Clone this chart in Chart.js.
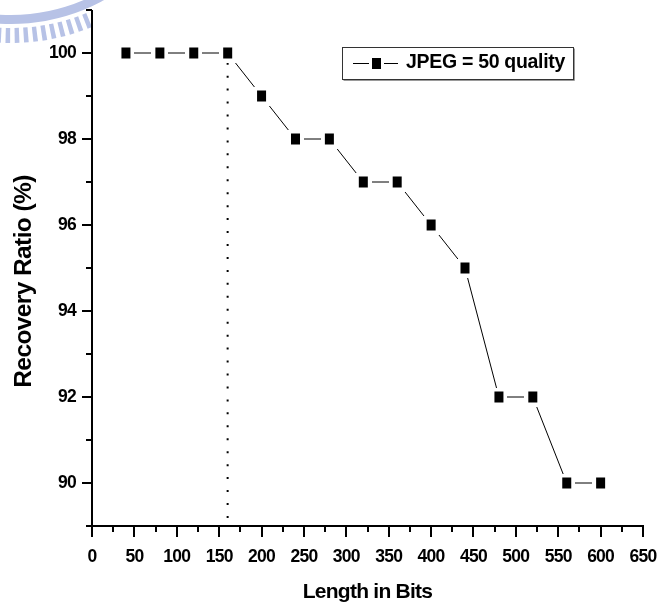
<!DOCTYPE html>
<html>
<head>
<meta charset="utf-8">
<script src="https://cdn.jsdelivr.net/npm/chart.js@4/dist/chart.umd.min.js"></script>
<style>
html,body{margin:0;padding:0;background:#fff;}
#wrap{width:667px;height:605px;position:relative;}
</style>
</head>
<body>
<div id="wrap"><canvas id="c" width="667" height="605"></canvas></div>
<script>
// ---- data ----
const lengthBits    = [40, 80, 120, 160, 200, 240, 280, 320, 360, 400, 440, 480, 520, 560, 600];
const recoveryRatio = [100, 100, 100, 100, 99, 98, 98, 97, 97, 96, 95, 92, 92, 90, 90];
const seriesLabel   = 'JPEG = 50 quality';
const thresholdX    = [160, 160];
const thresholdY    = [100, 89];
const xMajorTicks   = [0, 50, 100, 150, 200, 250, 300, 350, 400, 450, 500, 550, 600, 650];
const yMajorTicks   = [90, 92, 94, 96, 98, 100];
const xTitle        = 'Length in Bits';
const yTitle        = 'Recovery Ratio (%)';

const FONT = '"Liberation Sans", Arial, Helvetica, sans-serif';
const SPACING = '-0.75px';

function makeMarker() {
  const c = document.createElement('canvas');
  c.width = 17; c.height = 19;
  const g = c.getContext('2d');
  g.fillStyle = '#fff'; g.fillRect(0, 0, 17, 19);
  g.fillStyle = '#000'; g.fillRect(4, 4, 9, 11);
  return c;
}
const marker = makeMarker();

const decor = {
  id: 'decor',
  beforeLayout(chart) { chart.ctx.letterSpacing = SPACING; },
  beforeDraw(chart) {
    const ctx = chart.ctx;
    ctx.letterSpacing = SPACING;
    ctx.save();
    ctx.fillStyle = '#fff';
    ctx.fillRect(0, 0, chart.width, chart.height);
    // faint watermark logo (partial) at top-left
    const cx = 11, cy = -169;
    ctx.fillStyle = '#b7c2e6';
    ctx.beginPath();
    ctx.arc(cx, cy, 193, 0.3, Math.PI - 0.3, false);
    ctx.arc(cx, cy, 184, Math.PI - 0.3, 0.3, true);
    ctx.closePath();
    ctx.fill();
    for (let t = 1.19; t < 1.75; t += 0.044) {
      ctx.beginPath();
      const w = 0.011;
      ctx.moveTo(cx + 197 * Math.cos(t - w), cy + 197 * Math.sin(t - w));
      ctx.lineTo(cx + 212 * Math.cos(t - w), cy + 212 * Math.sin(t - w));
      ctx.lineTo(cx + 212 * Math.cos(t + w), cy + 212 * Math.sin(t + w));
      ctx.lineTo(cx + 197 * Math.cos(t + w), cy + 197 * Math.sin(t + w));
      ctx.closePath();
      ctx.fill();
    }
    ctx.restore();
  },
  afterDraw(chart) {
    const {ctx, chartArea: a, scales: {x, y}} = chart;
    ctx.save();
    ctx.strokeStyle = '#000';
    ctx.lineWidth = 2;
    ctx.lineCap = 'butt';
    // axis lines
    ctx.beginPath();
    ctx.moveTo(a.left, a.top);
    ctx.lineTo(a.left, a.bottom + 1);
    ctx.moveTo(a.left - 1, a.bottom);
    ctx.lineTo(a.right + 1, a.bottom);
    ctx.stroke();
    // x ticks
    ctx.beginPath();
    for (let v = x.min; v <= x.max + 0.001; v += 25) {
      const px = Math.round(x.getPixelForValue(v));
      const major = xMajorTicks.includes(v);
      ctx.moveTo(px, a.bottom);
      ctx.lineTo(px, a.bottom + (major ? 11 : 6));
    }
    // y ticks
    for (let v = y.min; v <= y.max + 0.001; v += 1) {
      const py = Math.round(y.getPixelForValue(v));
      const major = yMajorTicks.includes(v);
      ctx.moveTo(a.left, py);
      ctx.lineTo(a.left - (major ? 10 : 6), py);
    }
    ctx.stroke();

    // y title
    ctx.save();
    ctx.letterSpacing = '-0.6px';
    ctx.translate(24, 281.5);
    ctx.rotate(-Math.PI / 2);
    ctx.fillStyle = '#000';
    ctx.font = 'bold 24.5px ' + FONT;
    ctx.textAlign = 'center';
    ctx.textBaseline = 'middle';
    ctx.fillText(yTitle, 0, 0);
    ctx.restore();

    // legend box
    const bx = 342.5, by = 47.5, bw = 231, bh = 32;
    ctx.lineWidth = 1;
    ctx.strokeStyle = '#9a9a9a';
    ctx.beginPath();
    ctx.moveTo(bx + bw + 1, by + 1);
    ctx.lineTo(bx + bw + 1, by + bh + 1);
    ctx.lineTo(bx + 1, by + bh + 1);
    ctx.stroke();
    ctx.strokeStyle = '#333';
    ctx.strokeRect(bx, by, bw, bh);
    const ly = 63.5;
    ctx.strokeStyle = '#000';
    ctx.beginPath();
    ctx.moveTo(353, ly); ctx.lineTo(369, ly);
    ctx.moveTo(384, ly); ctx.lineTo(398, ly);
    ctx.stroke();
    ctx.fillStyle = '#000';
    ctx.fillRect(372, 58, 9, 11);
    ctx.letterSpacing = '-0.3px';
    ctx.font = 'bold 19.5px ' + FONT;
    ctx.textAlign = 'left';
    ctx.textBaseline = 'middle';
    ctx.fillText(chart.data.datasets[0].label, 406, 63);
    ctx.restore();
  }
};

new Chart(document.getElementById('c'), {
  type: 'line',
  data: {
    datasets: [
      {
        label: seriesLabel,
        data: lengthBits.map((v, i) => ({x: v, y: recoveryRatio[i]})),
        borderColor: '#000',
        borderWidth: 1,
        pointStyle: marker,
        pointRadius: 8,
        pointHoverRadius: 8,
        fill: false,
        tension: 0,
        order: 1
      },
      {
        label: 'threshold',
        data: thresholdX.map((v, i) => ({x: v, y: thresholdY[i]})),
        borderColor: '#000',
        borderWidth: 2,
        borderDash: [2, 10.95],
        borderDashOffset: 3.25,
        pointRadius: 0,
        fill: false,
        order: 2
      }
    ]
  },
  options: {
    responsive: false,
    animation: false,
    layout: {padding: {top: 10, right: 24, left: 0, bottom: 0}},
    plugins: {legend: {display: false}, tooltip: {enabled: false}},
    scales: {
      x: {
        type: 'linear',
        min: 0, max: 650,
        border: {display: false},
        grid: {display: false, drawTicks: false},
        ticks: {
          stepSize: 25,
          autoSkip: false,
          maxRotation: 0,
          padding: 20.5,
          color: '#000',
          font: {family: FONT, size: 17.5, weight: 'bold'},
          callback: v => xMajorTicks.includes(v) ? String(v) : ''
        },
        title: {
          display: true, text: xTitle, color: '#000',
          font: {family: FONT, size: 21, weight: 'bold'},
          padding: {top: 0, bottom: 0}
        },
        afterFit(s) { s.height = 79; s.paddingLeft = 0; s.paddingRight = 0; }
      },
      y: {
        type: 'linear',
        min: 89, max: 101,
        border: {display: false},
        grid: {display: false, drawTicks: false},
        ticks: {
          stepSize: 1,
          autoSkip: false,
          padding: 16,
          color: '#000',
          font: {family: FONT, size: 17.5, weight: 'bold'},
          callback: v => yMajorTicks.includes(v) ? String(v) : ''
        },
        afterFit(s) { s.width = 92; s.paddingTop = 0; s.paddingBottom = 0; }
      }
    }
  },
  plugins: [decor]
});
</script>
</body>
</html>
